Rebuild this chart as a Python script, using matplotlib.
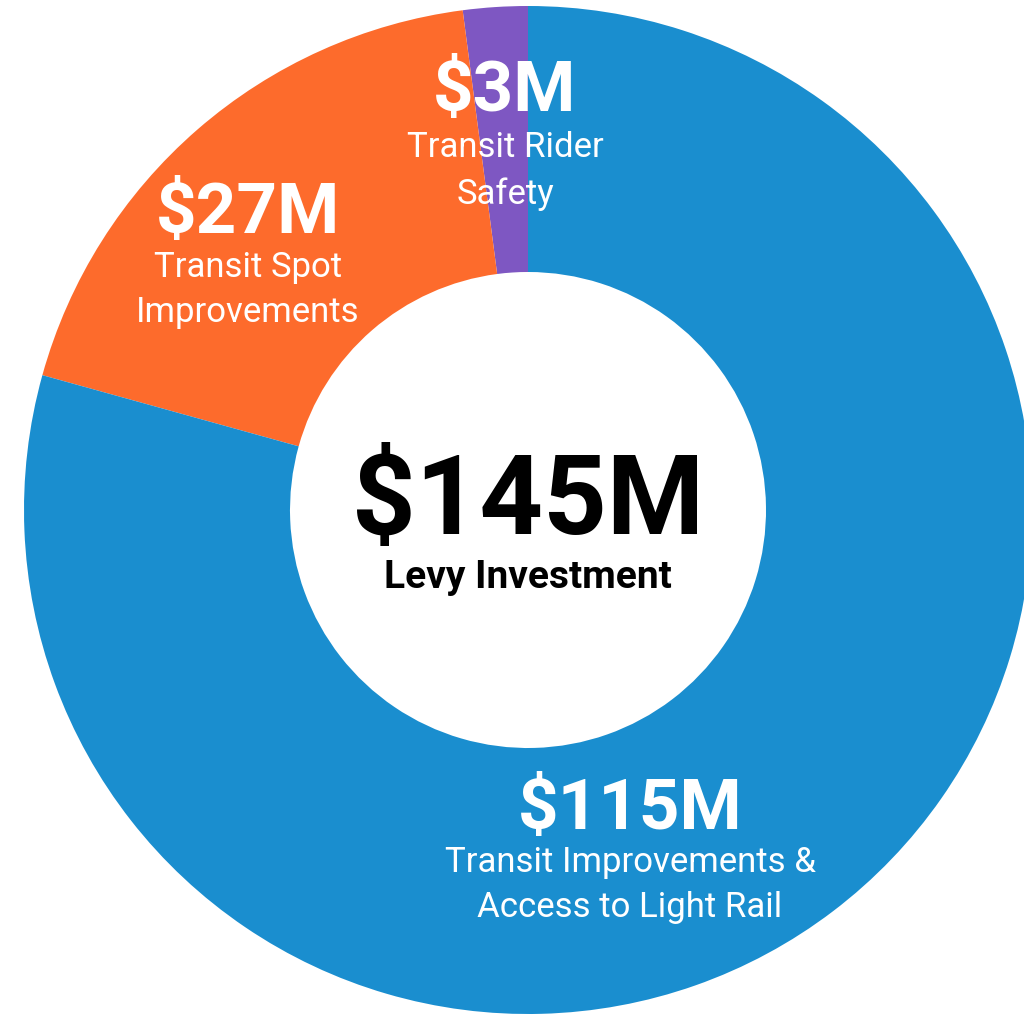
import matplotlib.pyplot as plt

# wedges counterclockwise from 12 o'clock
amounts = [3, 27, 115]
amount_labels = ['$3M', '$27M', '$115M']
names = ['Transit Rider\nSafety', 'Transit Spot\nImprovements',
         'Transit Improvements &\nAccess to Light Rail']
colors = ['#7E57C2', '#FD6B2C', '#1A8ECF']
total_label = '$145M'
total_name = 'Levy Investment'

W, H = 1024, 1017
fig = plt.figure(figsize=(W / 100, H / 100), dpi=100)
ax = fig.add_axes([0, 0, 1, 1])

cx, cy = 528, H - 510
R = 504
ax.pie(amounts, colors=colors, startangle=90, counterclock=True,
       center=(cx, cy), radius=R, frame=True,
       wedgeprops=dict(width=R - 238, linewidth=0))
ax.set_xlim(0, W)
ax.set_ylim(0, H)
ax.set_aspect('equal')
ax.axis('off')

font = 'Roboto'
# label positions in image pixels (x, y of value, y of name)
pos = [(505, 92, 171), (248, 213, 290), (630, 810, 885)]
for (x, yv, yn), v, n in zip(pos, amount_labels, names):
    ax.text(x, H - yv, v, color='white', fontsize=51, fontweight='bold',
            family=font, ha='center', va='center')
    ax.text(x, H - yn, n, color='white', fontsize=25, family=font,
            ha='center', va='center', linespacing=1.47)

ax.text(cx, H - 503, total_label, color='black', fontsize=80,
        fontweight='bold', family=font, ha='center', va='center')
ax.text(cx, H - 577, total_name, color='black', fontsize=28,
        fontweight='bold', family=font, ha='center', va='center')

fig.savefig('out.png', dpi=100, facecolor='white')
